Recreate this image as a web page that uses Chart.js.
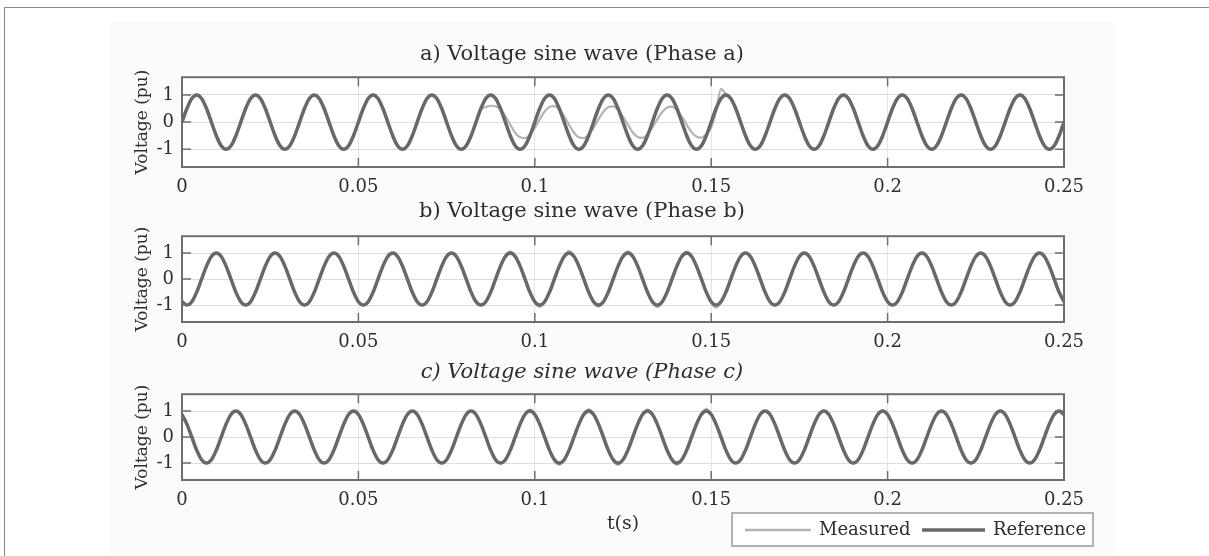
<!DOCTYPE html>
<html>
<head>
<meta charset="utf-8">
<script src="https://cdn.jsdelivr.net/npm/chart.js@4/dist/chart.umd.min.js"></script>
<style>
  html, body { margin: 0; padding: 0; background: #fff; }
  body { width: 1209px; height: 556px; position: relative; overflow: hidden; }
  #frame { position: absolute; left: 4px; top: 7px; width: 1300px; height: 700px;
           border-left: 1.5px solid #8a8a8a; border-top: 1.5px solid #8a8a8a; }
  #sheet { position: absolute; left: 110px; top: 22px; width: 1005px; height: 534px; background: #fbfbfb; }
  canvas { position: absolute; left: 0; }
</style>
</head>
<body>
<div id="frame"></div>
<div id="sheet"></div>
<canvas id="chartA" width="1209" height="200" style="top:0px"></canvas>
<canvas id="chartB" width="1209" height="170" style="top:190px"></canvas>
<canvas id="chartC" width="1209" height="201" style="top:355px"></canvas>
<script>
// sampled every 1/720 s (30 degrees of a 60 Hz wave), 0 .. 0.25 s
const times = Array.from({length: 181}, (_, i) => i / 720);

const xTickValues = [0, 0.05, 0.1, 0.15, 0.2, 0.25];
const xTickLabels = ['0', '0.05', '0.1', '0.15', '0.2', '0.25'];
const yTickValues = [-1, 0, 1];
const yTickLabels = ['-1', '0', '1'];

const titles = ['a) Voltage sine wave (Phase a)', 'b) Voltage sine wave (Phase b)', 'c) Voltage sine wave (Phase c)'];
const seriesNames = ['Measured', 'Reference'];

// phase a
const refA = [
  0, 0.5, 0.87, 1, 0.87, 0.5, 0, -0.5, -0.87, -1, -0.87, -0.5,
  0, 0.5, 0.87, 1, 0.87, 0.5, 0, -0.5, -0.87, -1, -0.87, -0.5,
  0, 0.5, 0.87, 1, 0.87, 0.5, 0, -0.5, -0.87, -1, -0.87, -0.5,
  0, 0.5, 0.87, 1, 0.87, 0.5, 0, -0.5, -0.87, -1, -0.87, -0.5,
  0, 0.5, 0.87, 1, 0.87, 0.5, 0, -0.5, -0.87, -1, -0.87, -0.5,
  0, 0.5, 0.87, 1, 0.87, 0.5, 0, -0.5, -0.87, -1, -0.87, -0.5,
  0, 0.5, 0.87, 1, 0.87, 0.5, 0, -0.5, -0.87, -1, -0.87, -0.5,
  0, 0.5, 0.87, 1, 0.87, 0.5, 0, -0.5, -0.87, -1, -0.87, -0.5,
  0, 0.5, 0.87, 1, 0.87, 0.5, 0, -0.5, -0.87, -1, -0.87, -0.5,
  0, 0.5, 0.87, 1, 0.87, 0.5, 0, -0.5, -0.87, -1, -0.87, -0.5,
  0, 0.5, 0.87, 1, 0.87, 0.5, 0, -0.5, -0.87, -1, -0.87, -0.5,
  0, 0.5, 0.87, 1, 0.87, 0.5, 0, -0.5, -0.87, -1, -0.87, -0.5,
  0, 0.5, 0.87, 1, 0.87, 0.5, 0, -0.5, -0.87, -1, -0.87, -0.5,
  0, 0.5, 0.87, 1, 0.87, 0.5, 0, -0.5, -0.87, -1, -0.87, -0.5,
  0, 0.5, 0.87, 1, 0.87, 0.5, 0, -0.5, -0.87, -1, -0.87, -0.5,
  0
];
const measA = [
  0, 0.5, 0.87, 1, 0.87, 0.5, 0, -0.5, -0.87, -1, -0.87, -0.5,
  0, 0.5, 0.87, 1, 0.87, 0.5, 0, -0.5, -0.87, -1, -0.87, -0.5,
  0, 0.5, 0.87, 1, 0.87, 0.5, 0, -0.5, -0.87, -1, -0.87, -0.5,
  0, 0.5, 0.87, 1, 0.87, 0.5, 0, -0.5, -0.87, -1, -0.87, -0.5,
  0, 0.5, 0.87, 1, 0.87, 0.5, 0, -0.5, -0.87, -1, -0.87, -0.5,
  0, 0.46, 0.55, 0.6, 0.58, 0.46, 0.21, -0.1, -0.39, -0.56, -0.59, -0.46,
  -0.21, 0.1, 0.39, 0.56, 0.59, 0.46, 0.21, -0.1, -0.39, -0.56, -0.59, -0.46,
  -0.21, 0.1, 0.38, 0.55, 0.58, 0.45, 0.2, -0.1, -0.38, -0.55, -0.58, -0.45,
  -0.2, 0.1, 0.37, 0.54, 0.57, 0.44, 0.2, -0.1, -0.37, -0.54, -0.57, -0.45,
  -0.2, 0.4, 1.22, 1.02, 0.87, 0.5, 0, -0.5, -0.87, -1, -0.87, -0.5,
  0, 0.5, 0.87, 1, 0.87, 0.5, 0, -0.5, -0.87, -1, -0.87, -0.5,
  0, 0.5, 0.87, 1, 0.87, 0.5, 0, -0.5, -0.87, -1, -0.87, -0.5,
  0, 0.5, 0.87, 1, 0.87, 0.5, 0, -0.5, -0.87, -1, -0.87, -0.5,
  0, 0.5, 0.87, 1, 0.87, 0.5, 0, -0.5, -0.87, -1, -0.87, -0.5,
  0, 0.5, 0.87, 1, 0.87, 0.5, 0, -0.5, -0.87, -1, -0.87, -0.5,
  0
];

// phase b
const refB = [
  -0.87, -1, -0.87, -0.5, 0, 0.5, 0.87, 1, 0.87, 0.5, 0, -0.5,
  -0.87, -1, -0.87, -0.5, 0, 0.5, 0.87, 1, 0.87, 0.5, 0, -0.5,
  -0.87, -1, -0.87, -0.5, 0, 0.5, 0.87, 1, 0.87, 0.5, 0, -0.5,
  -0.87, -1, -0.87, -0.5, 0, 0.5, 0.87, 1, 0.87, 0.5, 0, -0.5,
  -0.87, -1, -0.87, -0.5, 0, 0.5, 0.87, 1, 0.87, 0.5, 0, -0.5,
  -0.87, -1, -0.87, -0.5, 0, 0.5, 0.87, 1, 0.87, 0.5, 0, -0.5,
  -0.87, -1, -0.87, -0.5, 0, 0.5, 0.87, 1, 0.87, 0.5, 0, -0.5,
  -0.87, -1, -0.87, -0.5, 0, 0.5, 0.87, 1, 0.87, 0.5, 0, -0.5,
  -0.87, -1, -0.87, -0.5, 0, 0.5, 0.87, 1, 0.87, 0.5, 0, -0.5,
  -0.87, -1, -0.87, -0.5, 0, 0.5, 0.87, 1, 0.87, 0.5, 0, -0.5,
  -0.87, -1, -0.87, -0.5, 0, 0.5, 0.87, 1, 0.87, 0.5, 0, -0.5,
  -0.87, -1, -0.87, -0.5, 0, 0.5, 0.87, 1, 0.87, 0.5, 0, -0.5,
  -0.87, -1, -0.87, -0.5, 0, 0.5, 0.87, 1, 0.87, 0.5, 0, -0.5,
  -0.87, -1, -0.87, -0.5, 0, 0.5, 0.87, 1, 0.87, 0.5, 0, -0.5,
  -0.87, -1, -0.87, -0.5, 0, 0.5, 0.87, 1, 0.87, 0.5, 0, -0.5,
  -0.87
];
const measB = [
  -0.87, -1, -0.87, -0.5, 0, 0.5, 0.87, 1, 0.87, 0.5, 0, -0.5,
  -0.87, -1, -0.87, -0.5, 0, 0.5, 0.87, 1, 0.87, 0.5, 0, -0.5,
  -0.87, -1, -0.87, -0.5, 0, 0.5, 0.87, 1, 0.87, 0.5, 0, -0.5,
  -0.87, -1, -0.87, -0.5, 0, 0.5, 0.87, 1, 0.87, 0.5, 0, -0.5,
  -0.87, -1, -0.87, -0.5, 0, 0.5, 0.87, 1, 0.87, 0.5, 0, -0.5,
  -0.87, -1, -0.87, -0.5, 0, 0.5, 0.9, 1.06, 0.9, 0.52, 0.02, -0.48,
  -0.9, -1.07, -0.9, -0.5, 0.02, 0.52, 0.9, 1.08, 0.88, 0.5, -0.02, -0.52,
  -0.9, -1.06, -0.88, -0.48, 0.03, 0.53, 0.9, 1.07, 0.9, 0.5, -0.02, -0.52,
  -0.9, -1.08, -0.9, -0.5, 0.02, 0.52, 0.9, 1.06, 0.9, 0.5, -0.02, -0.52,
  -0.92, -1.1, -0.9, -0.5, 0, 0.5, 0.87, 1, 0.87, 0.5, 0, -0.5,
  -0.87, -1, -0.87, -0.5, 0, 0.5, 0.87, 1, 0.87, 0.5, 0, -0.5,
  -0.87, -1, -0.87, -0.5, 0, 0.5, 0.87, 1, 0.87, 0.5, 0, -0.5,
  -0.87, -1, -0.87, -0.5, 0, 0.5, 0.87, 1, 0.87, 0.5, 0, -0.5,
  -0.87, -1, -0.87, -0.5, 0, 0.5, 0.87, 1, 0.87, 0.5, 0, -0.5,
  -0.87, -1, -0.87, -0.5, 0, 0.5, 0.87, 1, 0.87, 0.5, 0, -0.5,
  -0.87
];

// phase c
const refC = [
  0.87, 0.5, 0, -0.5, -0.87, -1, -0.87, -0.5, 0, 0.5, 0.87, 1,
  0.87, 0.5, 0, -0.5, -0.87, -1, -0.87, -0.5, 0, 0.5, 0.87, 1,
  0.87, 0.5, 0, -0.5, -0.87, -1, -0.87, -0.5, 0, 0.5, 0.87, 1,
  0.87, 0.5, 0, -0.5, -0.87, -1, -0.87, -0.5, 0, 0.5, 0.87, 1,
  0.87, 0.5, 0, -0.5, -0.87, -1, -0.87, -0.5, 0, 0.5, 0.87, 1,
  0.87, 0.5, 0, -0.5, -0.87, -1, -0.87, -0.5, 0, 0.5, 0.87, 1,
  0.87, 0.5, 0, -0.5, -0.87, -1, -0.87, -0.5, 0, 0.5, 0.87, 1,
  0.87, 0.5, 0, -0.5, -0.87, -1, -0.87, -0.5, 0, 0.5, 0.87, 1,
  0.87, 0.5, 0, -0.5, -0.87, -1, -0.87, -0.5, 0, 0.5, 0.87, 1,
  0.87, 0.5, 0, -0.5, -0.87, -1, -0.87, -0.5, 0, 0.5, 0.87, 1,
  0.87, 0.5, 0, -0.5, -0.87, -1, -0.87, -0.5, 0, 0.5, 0.87, 1,
  0.87, 0.5, 0, -0.5, -0.87, -1, -0.87, -0.5, 0, 0.5, 0.87, 1,
  0.87, 0.5, 0, -0.5, -0.87, -1, -0.87, -0.5, 0, 0.5, 0.87, 1,
  0.87, 0.5, 0, -0.5, -0.87, -1, -0.87, -0.5, 0, 0.5, 0.87, 1,
  0.87, 0.5, 0, -0.5, -0.87, -1, -0.87, -0.5, 0, 0.5, 0.87, 1,
  0.87
];
const measC = [
  0.87, 0.5, 0, -0.5, -0.87, -1, -0.87, -0.5, 0, 0.5, 0.87, 1,
  0.87, 0.5, 0, -0.5, -0.87, -1, -0.87, -0.5, 0, 0.5, 0.87, 1,
  0.87, 0.5, 0, -0.5, -0.87, -1, -0.87, -0.5, 0, 0.5, 0.87, 1,
  0.87, 0.5, 0, -0.5, -0.87, -1, -0.87, -0.5, 0, 0.5, 0.87, 1,
  0.87, 0.5, 0, -0.5, -0.87, -1, -0.87, -0.5, 0, 0.5, 0.87, 1,
  0.87, 0.5, 0, -0.5, -0.87, -1, -0.87, -0.5, 0.02, 0.53, 0.9, 1.06,
  0.9, 0.5, -0.02, -0.52, -0.9, -1.06, -0.9, -0.5, 0.02, 0.52, 0.9, 1.07,
  0.88, 0.48, -0.03, -0.53, -0.9, -1.07, -0.88, -0.5, 0.02, 0.53, 0.9, 1.06,
  0.9, 0.5, -0.02, -0.52, -0.9, -1.06, -0.9, -0.5, 0.02, 0.52, 0.9, 1.08,
  0.88, 0.5, 0, -0.5, -0.87, -1, -0.87, -0.5, 0, 0.5, 0.87, 1,
  0.87, 0.5, 0, -0.5, -0.87, -1, -0.87, -0.5, 0, 0.5, 0.87, 1,
  0.87, 0.5, 0, -0.5, -0.87, -1, -0.87, -0.5, 0, 0.5, 0.87, 1,
  0.87, 0.5, 0, -0.5, -0.87, -1, -0.87, -0.5, 0, 0.5, 0.87, 1,
  0.87, 0.5, 0, -0.5, -0.87, -1, -0.87, -0.5, 0, 0.5, 0.87, 1,
  0.87, 0.5, 0, -0.5, -0.87, -1, -0.87, -0.5, 0, 0.5, 0.87, 1,
  0.87
];

const serif = "'DejaVu Serif', 'Liberation Serif', serif";
const measColor = '#b4b4b4';
const refColor = '#686868';
const boxColor = '#6e6e6e';
const textColor = '#2e2e2e';

// white plot background, box around the axes and inward tick marks (matlab style)
const axesBox = {
  id: 'axesBox',
  beforeDraw(chart) {
    const a = chart.chartArea, ctx = chart.ctx;
    ctx.save();
    ctx.fillStyle = '#ffffff';
    ctx.fillRect(a.left, a.top, a.right - a.left, a.bottom - a.top);
    ctx.restore();
  },
  afterDatasetsDraw(chart) {
    const a = chart.chartArea, ctx = chart.ctx;
    const xs = chart.scales.x, ys = chart.scales.y;
    ctx.save();
    ctx.strokeStyle = boxColor;
    ctx.lineWidth = 1.5;
    ctx.beginPath();
    xTickValues.forEach(v => {
      const px = xs.getPixelForValue(v);
      ctx.moveTo(px, a.top); ctx.lineTo(px, a.top + 9);
      ctx.moveTo(px, a.bottom); ctx.lineTo(px, a.bottom - 9);
    });
    yTickValues.forEach(v => {
      const py = ys.getPixelForValue(v);
      ctx.moveTo(a.left, py); ctx.lineTo(a.left + 9, py);
      ctx.moveTo(a.right, py); ctx.lineTo(a.right - 9, py);
    });
    ctx.stroke();
    ctx.lineWidth = 2;
    ctx.strokeRect(a.left, a.top, a.right - a.left, a.bottom - a.top);
    ctx.restore();
  }
};

// boxed legend under the last plot
const boxLegend = {
  id: 'boxLegend',
  afterDraw(chart) {
    if (!chart.options.plugins.boxLegend.show) return;
    const a = chart.chartArea, ctx = chart.ctx;
    const right = a.right + 29, top = a.bottom + 33, h = 33;
    const left = right - 361;
    ctx.save();
    ctx.fillStyle = '#ffffff';
    ctx.fillRect(left, top, right - left, h);
    ctx.strokeStyle = '#9a9a9a';
    ctx.lineWidth = 1.5;
    ctx.strokeRect(left, top, right - left, h);
    ctx.font = '18px ' + serif;
    ctx.fillStyle = textColor;
    ctx.textBaseline = 'middle';
    const cy = top + h / 2 + 0.5;
    const items = [
      {x: left + 13, len: 66, color: measColor, width: 2.5, text: chart.data.datasets[0].label},
      {x: left + 190, len: 63, color: refColor, width: 3.5, text: chart.data.datasets[1].label}
    ];
    items.forEach(it => {
      ctx.strokeStyle = it.color;
      ctx.lineWidth = it.width;
      ctx.beginPath();
      ctx.moveTo(it.x, cy); ctx.lineTo(it.x + it.len, cy);
      ctx.stroke();
      ctx.fillText(it.text, it.x + it.len + 8, cy);
    });
    ctx.restore();
  }
};

function makeChart(id, title, meas, ref, lay) {
  return new Chart(document.getElementById(id), {
    type: 'line',
    data: {
      labels: times,
      datasets: [
        { label: seriesNames[0], data: meas, borderColor: measColor, borderWidth: 2.2, order: 1 },
        { label: seriesNames[1], data: ref, borderColor: refColor, borderWidth: 3.5, order: 0 }
      ]
    },
    options: {
      responsive: false,
      animation: false,
      devicePixelRatio: 1,
      cubicInterpolationMode: 'monotone',
      elements: { point: { radius: 0 } },
      layout: { padding: { left: 100, right: 145, top: lay.top, bottom: 0 } },
      plugins: {
        legend: { display: false },
        tooltip: { enabled: false },
        title: {
          display: true, text: title, color: textColor,
          font: { family: serif, size: 21, weight: 'normal', style: lay.titleStyle },
          padding: { top: 0, bottom: lay.titleGap }
        },
        boxLegend: { show: lay.legend }
      },
      scales: {
        x: {
          type: 'linear', min: 0, max: 0.25,
          afterBuildTicks: s => { s.ticks = xTickValues.map(v => ({ value: v })); },
          afterFit: s => { s.height = lay.xHeight; },
          grid: { color: '#e4e4e4', lineWidth: 1, drawTicks: false },
          border: { display: false },
          ticks: {
            color: textColor, padding: 10, maxRotation: 0,
            font: { family: serif, size: 18 },
            callback: (v, i) => xTickLabels[i]
          },
          title: {
            display: lay.legend, text: 't(s)', color: textColor,
            font: { family: serif, size: 19 },
            padding: { top: 0, bottom: 21 }
          }
        },
        y: {
          min: -1.65, max: 1.65,
          afterBuildTicks: s => { s.ticks = yTickValues.map(v => ({ value: v })); },
          afterFit: s => { s.width = 82; },
          grid: { color: '#dddddd', lineWidth: 1, drawTicks: false },
          border: { display: false },
          ticks: {
            color: textColor, padding: 8,
            font: { family: serif, size: 18 },
            callback: (v, i) => yTickLabels[i]
          },
          title: {
            display: true, text: 'Voltage (pu)', color: textColor,
            font: { family: serif, size: 17 },
            padding: { top: 32, bottom: 0 }
          }
        }
      }
    },
    plugins: [axesBox, boxLegend]
  });
}

makeChart('chartA', titles[0], measA, refA, { top: 42, titleGap: 10, xHeight: 33, legend: false, titleStyle: 'normal' });
makeChart('chartB', titles[1], measB, refB, { top: 9, titleGap: 12, xHeight: 38, legend: false, titleStyle: 'normal' });
makeChart('chartC', titles[2], measC, refC, { top: 5, titleGap: 9, xHeight: 76, legend: true, titleStyle: 'italic' });
</script>
</body>
</html>
